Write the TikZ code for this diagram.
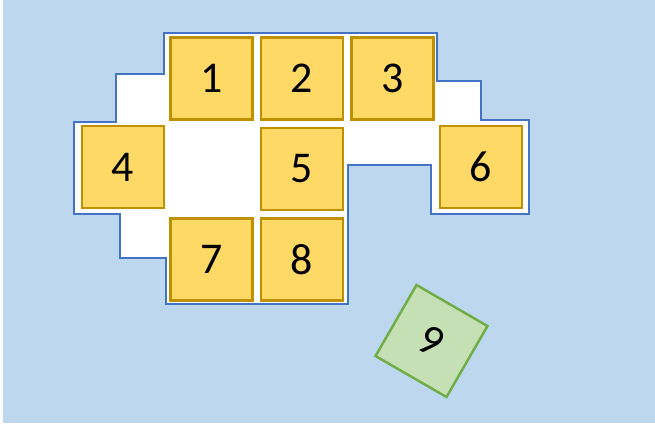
\documentclass[tikz,border=0pt]{standalone}
\usepackage{fontspec}
\setmainfont{Carlito}
\usetikzlibrary{positioning}
\definecolor{sky}{HTML}{BDD7EE}
\definecolor{rim}{HTML}{4472C4}
\definecolor{butter}{HTML}{FFD966}
\definecolor{gold}{HTML}{BF9000}
\definecolor{mint}{HTML}{C5E0B4}
\definecolor{leaf}{HTML}{70AD47}
\begin{document}
\begin{tikzpicture}[
  x=0.02cm, y=-0.02cm,
  node distance=0.12cm,
  tile/.style={rectangle, draw=gold, fill=butter, line width=1.4pt, minimum size=1.64cm, inner sep=0pt, font=\fontsize{25}{29}\selectfont},
  loose/.style={tile, draw=leaf, fill=mint}
]
\useasboundingbox (0,0) rectangle (655,427);
\fill[sky] (3,0) rectangle (655,423);
% free area of the board
\draw[rim, fill=white, line width=1pt]
  (164,33) -- (437,33) -- (437,81) -- (481,81) -- (481,120) -- (529,120)
  -- (529,214) -- (431,214) -- (431,165) -- (348,165) -- (348,304)
  -- (166,304) -- (166,258) -- (120,258) -- (120,214) -- (74,214)
  -- (74,122) -- (116,122) -- (116,74) -- (164,74) -- cycle;
\node[tile] (n1) at (211.5,78.5) {1};
\node[tile, right=of n1] (n2) {2};
\node[tile, right=of n2] (n3) {3};
\node[tile, below left=of n1] (n4) {4};
\node[tile, below=of n2] (n5) {5};
\node[tile, below right=of n3] (n6) {6};
\node[tile, below=of n5] (n8) {8};
\node[tile, left=of n8] (n7) {7};
\node[loose, rotate=-30] (n9) at (431.5,341) {9};
\end{tikzpicture}
\end{document}
